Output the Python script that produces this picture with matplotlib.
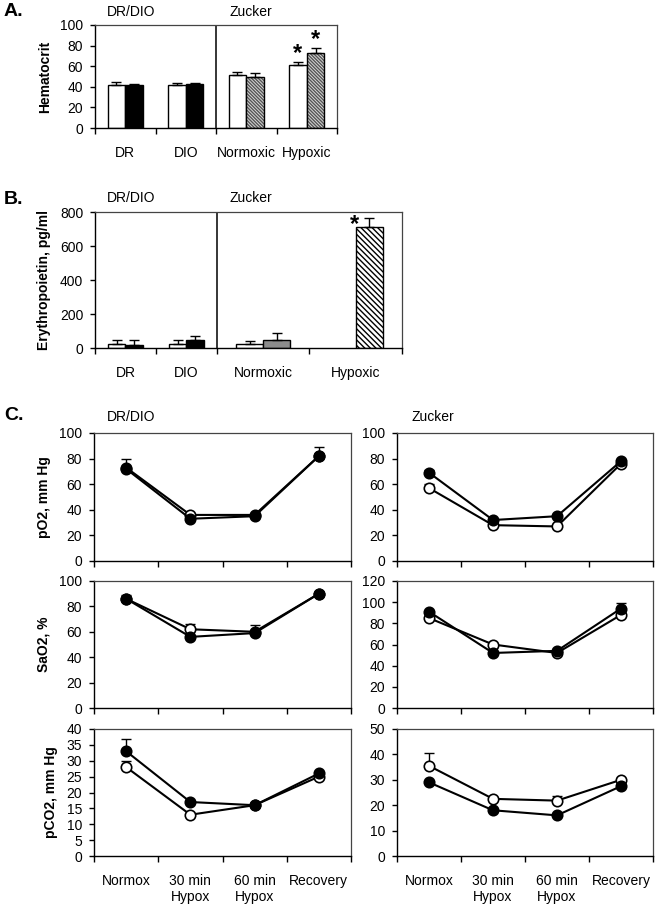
import matplotlib.pyplot as plt
import numpy as np

plt.rcParams['font.family'] = ['Liberation Sans', 'DejaVu Sans']
plt.rcParams['font.size'] = 10
plt.rcParams['hatch.linewidth'] = 1.0

# ---- panel A: hematocrit ----
a_labels = ["DR", "DIO", "Normoxic", "Hypoxic"]
a_white = [42, 42, 51, 61]
a_white_err = [3, 2, 3, 3]
a_dark = [42, 43, 50, 73]
a_dark_err = [1, 1, 3, 5]
a_stars = [False, False, False, True]

# ---- panel B: erythropoietin ----
b_labels = ["DR", "DIO", "Normoxic", "Hypoxic"]
b_white = [25, 25, 22, 0]
b_white_err = [20, 20, 20, 0]
b_dark = [20, 45, 45, 712]
b_dark_err = [25, 25, 43, 53]

# ---- panel C: blood gases (open = white circles, closed = black) ----
c_labels = ["Normox", "30 min\nHypox", "60 min\nHypox", "Recovery"]

po2_dr_open = [73, 36, 36, 82]
po2_dr_open_err = [0, 0, 0, 0]
po2_dr_closed = [72, 33, 35, 82]
po2_dr_closed_err = [8, 0, 0, 7]
po2_zu_open = [57, 28, 27, 76]
po2_zu_open_err = [3, 0, 0, 0]
po2_zu_closed = [69, 32, 35, 78]
po2_zu_closed_err = [2, 0, 0, 1]

sao2_dr_open = [86, 62, 60, 90]
sao2_dr_open_err = [3, 4, 5, 0]
sao2_dr_closed = [86, 56, 59, 90]
sao2_dr_closed_err = [0, 0, 0, 0]
sao2_zu_open = [85, 60, 52, 88]
sao2_zu_open_err = [0, 0, 0, 0]
sao2_zu_closed = [91, 52, 54, 94]
sao2_zu_closed_err = [0, 0, 0, 5]

pco2_dr_open = [28, 13, 16, 25]
pco2_dr_open_err = [1.8, 0, 0, 0]
pco2_dr_closed = [33, 17, 16, 26]
pco2_dr_closed_err = [4, 0, 0, 0]
pco2_zu_open = [35.5, 22.5, 21.8, 30]
pco2_zu_open_err = [5, 0, 2, 0]
pco2_zu_closed = [29, 18, 16, 27.5]
pco2_zu_closed_err = [0, 0, 0, 0]

W, H = 660, 911
fig = plt.figure(figsize=(W / 100, H / 100), dpi=100)


def px_axes(x0, y0, x1, y1):
    return fig.add_axes([x0 / W, 1 - y1 / H, (x1 - x0) / W, (y1 - y0) / H])


def style_frame(ax):
    for s in ['left', 'bottom']:
        ax.spines[s].set_color('black')
        ax.spines[s].set_linewidth(1.0)
    for s in ['top', 'right']:
        ax.spines[s].set_color('#444444')
        ax.spines[s].set_linewidth(0.9)
    ax.tick_params(axis='y', direction='out', length=3.5, width=1, labelsize=10, pad=5)


def cat_ticks(ax, edges, labels, show_labels=True):
    centers = [(edges[i] + edges[i + 1]) / 2 for i in range(len(edges) - 1)]
    ax.set_xticks(edges)
    ax.set_xticklabels([])
    ax.tick_params(axis='x', which='major', direction='out', length=4, width=1)
    ax.set_xticks(centers, minor=True)
    ax.set_xticklabels(labels if show_labels else [], minor=True)
    ax.tick_params(axis='x', which='minor', length=0, pad=13, labelsize=10)
    ax.set_xlim(edges[0], edges[-1])
    return centers


def draw_dark_bar(ax, x, h, w, kind):
    if kind == 'black':
        ax.bar(x, h, w, align='edge', color='black', edgecolor='black', lw=1)
    elif kind == 'gray':
        ax.bar(x, h, w, align='edge', color='#8c8c8c', edgecolor='black', lw=1)
    elif kind == 'fine':
        ax.bar(x, h, w, align='edge', color='#d8d8d8', edgecolor='#555555',
               hatch='\\' * 10, lw=0)
        ax.bar(x, h, w, align='edge', color='none', edgecolor='black', lw=1)
    else:
        ax.bar(x, h, w, align='edge', color='white', edgecolor='black', hatch='\\' * 6, lw=0)
        ax.bar(x, h, w, align='edge', color='none', edgecolor='black', lw=1)


def bar_panel(ax, edges, labels, white, white_err, dark, dark_err, kinds):
    centers = cat_ticks(ax, edges, labels)
    for i, c in enumerate(centers):
        bw = 0.29 * (edges[i + 1] - edges[i])
        if white[i] > 0:
            ax.bar(c - bw, white[i], bw, align='edge', color='white', edgecolor='black', lw=1)
            ax.errorbar(c - bw / 2, white[i], yerr=[[0], [white_err[i]]], fmt='none',
                        ecolor='black', elinewidth=1, capsize=3.5, capthick=1)
        draw_dark_bar(ax, c, dark[i], bw, kinds[i])
        ax.errorbar(c + bw / 2, dark[i], yerr=[[0], [dark_err[i]]], fmt='none',
                    ecolor='black', elinewidth=1, capsize=3.5, capthick=1)
    ax.axvline(edges[2], color='black', lw=1.1)
    style_frame(ax)
    return centers


# ---- A ----
axA = px_axes(95, 25, 337, 128)
a_edges = [0, 1, 2, 3, 4]
cA = bar_panel(axA, a_edges, a_labels, a_white, a_white_err, a_dark, a_dark_err,
               ['black', 'black', 'fine', 'fine'])
axA.set_ylim(0, 100)
axA.set_yticks(range(0, 101, 20))
axA.set_ylabel("Hematocrit", fontweight='bold', fontsize=10, labelpad=6)
for i, c in enumerate(cA):
    if a_stars[i]:
        bw = 0.29
        axA.text(c - bw / 2, a_white[i] + a_white_err[i] - 3, "*", ha='center', va='bottom',
                 fontsize=17, fontweight='bold')
        axA.text(c + bw / 2, a_dark[i] + a_dark_err[i] - 3, "*", ha='center', va='bottom',
                 fontsize=17, fontweight='bold')

# ---- B ----
axB = px_axes(95, 212, 402, 348)
b_edges = [0, 1, 2, 3.52, 5.04]
cB = bar_panel(axB, b_edges, b_labels, b_white, b_white_err, b_dark, b_dark_err,
               ['black', 'black', 'gray', 'hatch'])
axB.set_ylim(0, 800)
axB.set_yticks(range(0, 801, 200))
axB.set_ylabel("Erythropoietin, pg/ml", fontweight='bold', fontsize=10, labelpad=6)
axB.text(cB[3] - 0.02, b_dark[3] - 55, "*", ha='center', va='bottom', fontsize=17, fontweight='bold')

# ---- C ----
c_edges = [0, 1, 2, 3, 4]
rows = [(433, 561), (581, 708), (729, 856)]
cols = [(94, 351), (397, 653)]
panels = [
    [(po2_dr_open, po2_dr_open_err, po2_dr_closed, po2_dr_closed_err, 100, 20, "pO2, mm Hg"),
     (po2_zu_open, po2_zu_open_err, po2_zu_closed, po2_zu_closed_err, 100, 20, None)],
    [(sao2_dr_open, sao2_dr_open_err, sao2_dr_closed, sao2_dr_closed_err, 100, 20, "SaO2, %"),
     (sao2_zu_open, sao2_zu_open_err, sao2_zu_closed, sao2_zu_closed_err, 120, 20, None)],
    [(pco2_dr_open, pco2_dr_open_err, pco2_dr_closed, pco2_dr_closed_err, 40, 5, "pCO2, mm Hg"),
     (pco2_zu_open, pco2_zu_open_err, pco2_zu_closed, pco2_zu_closed_err, 50, 10, None)],
]

for r, (y0, y1) in enumerate(rows):
    for k, (x0, x1) in enumerate(cols):
        op, op_err, cl, cl_err, ymax, step, ylab = panels[r][k]
        ax = px_axes(x0, y0, x1, y1)
        centers = cat_ticks(ax, c_edges, c_labels, show_labels=(r == 2))
        for vals, errs, face in [(op, op_err, 'white'), (cl, cl_err, 'black')]:
            ax.errorbar(centers, vals, yerr=[[0] * len(errs), errs], fmt='none',
                        ecolor='black', elinewidth=1, capsize=3.5, capthick=1, zorder=2)
            ax.plot(centers, vals, '-o', color='black', lw=1.5, ms=7.5,
                    mfc=face, mec='black', mew=1.2, zorder=3)
        ax.set_ylim(0, ymax)
        ax.set_yticks(np.arange(0, ymax + 0.1, step))
        style_frame(ax)
        if ylab:
            ax.set_ylabel(ylab, fontweight='bold', fontsize=10, labelpad=6)

# ---- panel letters and group titles ----
fig.text(4 / W, 1 - 12 / H, "A.", fontsize=14, fontweight='bold', va='center')
fig.text(4 / W, 1 - 199 / H, "B.", fontsize=14, fontweight='bold', va='center')
fig.text(4 / W, 1 - 415 / H, "C.", fontsize=14, fontweight='bold', va='center')
fig.text(131 / W, 1 - 12 / H, "DR/DIO", ha='center', va='center', fontsize=10)
fig.text(251 / W, 1 - 12 / H, "Zucker", ha='center', va='center', fontsize=10)
fig.text(131 / W, 1 - 198 / H, "DR/DIO", ha='center', va='center', fontsize=10)
fig.text(251 / W, 1 - 198 / H, "Zucker", ha='center', va='center', fontsize=10)
fig.text(131 / W, 1 - 417 / H, "DR/DIO", ha='center', va='center', fontsize=10)
fig.text(433 / W, 1 - 417 / H, "Zucker", ha='center', va='center', fontsize=10)

fig.savefig("out.png", dpi=100)
